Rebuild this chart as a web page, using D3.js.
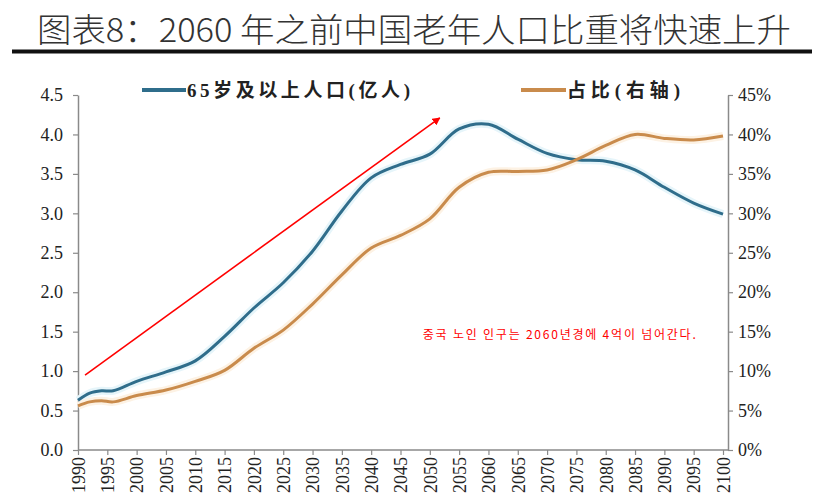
<!DOCTYPE html>
<html><head><meta charset="utf-8">
<script src="https://cdn.jsdelivr.net/npm/d3@7"></script>
<style>
body{margin:0;background:#fff;}
svg{display:block;}
</style>
</head><body>
<svg id="chart" width="824" height="502"></svg>
<script>
const years = [1990,1992,1994,1996,2000,2005,2010,2015,2020,2025,2030,2035,2040,2045,2050,2055,2060,2065,2070,2075,2080,2085,2090,2095,2100];
const elderly = [0.63,0.72,0.75,0.75,0.87,0.99,1.13,1.44,1.80,2.12,2.52,3.03,3.45,3.62,3.75,4.07,4.13,3.94,3.76,3.68,3.66,3.55,3.33,3.13,2.99];
const share = [5.6,6.1,6.25,6.1,6.9,7.6,8.7,10.1,12.9,15.2,18.5,22.2,25.6,27.2,29.3,33.3,35.2,35.3,35.5,36.8,38.6,40.0,39.5,39.3,39.8];
const xTicks = d3.range(1990, 2101, 5);
const leftTicks = [0,0.5,1.0,1.5,2.0,2.5,3.0,3.5,4.0,4.5];
const rightTicks = [0,5,10,15,20,25,30,35,40,45];
const seriesNames = ["65岁及以上人口(亿人)", "占比(右轴)"];
const titleText = "图表8：2060 年之前中国老年人口比重将快速上升";
const noteText = "중국 노인 인구는 2060년경에 4억이 넘어간다.";
const arrowFrom = [1991.2, 0.95];
const arrowTo = [2051.7, 4.21];
const notePos = [2048.8, 1.41];

const svg = d3.select("#chart");
const blue = "#2f6d8b", orange = "#c98b4c", axisCol = "#8a8a8a";

const x = d3.scaleLinear().domain([1990, 2100]).range([78, 723]);
const yL = d3.scaleLinear().domain([0, 4.5]).range([450, 95]);
const yR = d3.scaleLinear().domain([0, 45]).range([450, 95]);

// title
svg.append("text").attr("x", 37).attr("y", 42)
  .attr("font-family", "'Noto Sans CJK SC', sans-serif").attr("font-weight", 300)
  .attr("font-size", 33).attr("fill", "#333")
  .attr("textLength", 754).attr("lengthAdjust", "spacingAndGlyphs")
  .text(titleText);
svg.append("line").attr("x1", 12).attr("x2", 812).attr("y1", 51.5).attr("y2", 51.5)
  .attr("stroke", "#111").attr("stroke-width", 4);

// axes
const serif = "'Liberation Serif', 'Times New Roman', serif";
const gL = svg.append("g").attr("transform", "translate(78,0)")
  .call(d3.axisLeft(yL).tickValues(leftTicks).tickFormat(d3.format(".1f")).tickSize(5).tickSizeOuter(0));
const gR = svg.append("g").attr("transform", "translate(728,0)")
  .call(d3.axisRight(yR).tickValues(rightTicks).tickFormat(d => d + "%").tickSize(5).tickSizeOuter(0));
const gX = svg.append("g").attr("transform", "translate(0,450)")
  .call(d3.axisBottom(x).tickValues(xTicks).tickFormat(d3.format("d")).tickSize(5).tickSizeOuter(0));
gX.select(".domain").remove();
svg.append("line").attr("x1", 78).attr("x2", 728).attr("y1", 450).attr("y2", 450)
  .attr("stroke", axisCol).attr("stroke-width", 1.5);

[gL, gR, gX].forEach(g => {
  g.attr("font-family", serif).attr("font-size", 18);
  g.selectAll(".domain").attr("stroke", axisCol).attr("stroke-width", 1.5);
  g.selectAll(".tick line").attr("stroke", axisCol).attr("stroke-width", 1.2);
  g.selectAll("text").attr("font-family", serif).attr("font-size", 18).attr("fill", "#222");
});
gL.selectAll("text").attr("x", -15);
gR.selectAll("text").attr("x", 10).attr("text-anchor", "start");
gX.selectAll("text")
  .attr("transform", "rotate(-90)")
  .attr("text-anchor", "end")
  .attr("x", -7).attr("y", 0).attr("dy", "0.35em");

// lines
const lineL = d3.line().x((d, i) => x(years[i])).y(d => yL(d)).curve(d3.curveCatmullRom.alpha(0.5));
const lineR = d3.line().x((d, i) => x(years[i])).y(d => yR(d)).curve(d3.curveCatmullRom.alpha(0.5));

svg.append("path").datum(elderly).attr("d", lineL).attr("fill", "none")
  .attr("stroke", "#e6f5fa").attr("stroke-width", 8).attr("stroke-linejoin", "round");
svg.append("path").datum(share).attr("d", lineR).attr("fill", "none")
  .attr("stroke", "#fdf2e4").attr("stroke-width", 8).attr("stroke-linejoin", "round");
svg.append("path").datum(elderly).attr("d", lineL).attr("fill", "none")
  .attr("stroke", blue).attr("stroke-width", 3).attr("stroke-linejoin", "round");
svg.append("path").datum(share).attr("d", lineR).attr("fill", "none")
  .attr("stroke", orange).attr("stroke-width", 3).attr("stroke-linejoin", "round");

// legend
const legend = [
  {name: seriesNames[0], color: blue, x0: 142, x1: 186, w: 223},
  {name: seriesNames[1], color: orange, x0: 521, x1: 566, w: 113}
];
legend.forEach(l => {
  svg.append("line").attr("x1", l.x0).attr("x2", l.x1).attr("y1", 90).attr("y2", 90)
    .attr("stroke", l.color).attr("stroke-width", 4);
  svg.append("text").attr("x", l.x1 + 1).attr("y", 97)
    .attr("font-family", "'Liberation Serif', 'Noto Sans CJK SC', serif").attr("font-weight", "bold")
    .attr("font-size", 19).attr("fill", "#222")
    .attr("textLength", l.w).attr("lengthAdjust", "spacing")
    .text(l.name);
});

// annotation arrow
const defs = svg.append("defs");
defs.append("marker").attr("id", "arr").attr("viewBox", "0 0 10 10")
  .attr("refX", 9).attr("refY", 5).attr("markerWidth", 5).attr("markerHeight", 5)
  .attr("orient", "auto")
  .append("path").attr("d", "M0,0 L10,5 L0,10 z").attr("fill", "#ff0000");
svg.append("line")
  .attr("x1", x(arrowFrom[0])).attr("y1", yL(arrowFrom[1]))
  .attr("x2", x(arrowTo[0])).attr("y2", yL(arrowTo[1]))
  .attr("stroke", "#ff0000").attr("stroke-width", 1.6).attr("marker-end", "url(#arr)");

svg.append("text").attr("x", x(notePos[0])).attr("y", yL(notePos[1]))
  .attr("font-family", "'Noto Sans CJK KR', sans-serif").attr("font-size", 12)
  .attr("fill", "#ff0000")
  .attr("textLength", 273).attr("lengthAdjust", "spacing")
  .text(noteText);
</script>
</body></html>
